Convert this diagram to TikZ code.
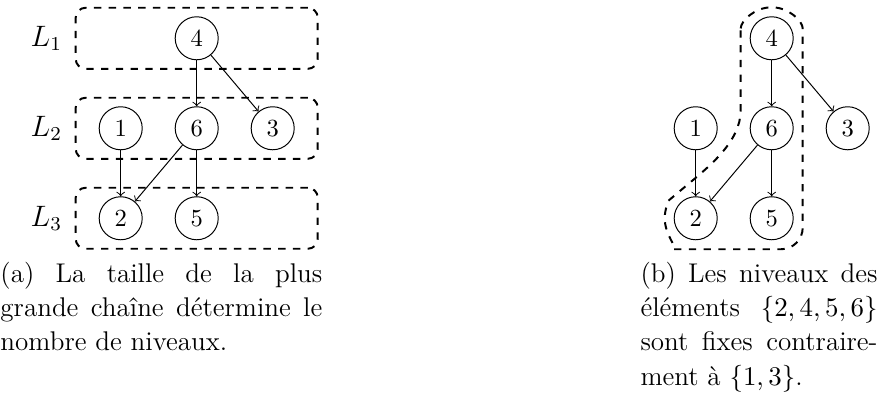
\documentclass[tikz,border=0pt]{standalone}
\usepackage{amsmath}
\usetikzlibrary{positioning, calc, arrows}

\begin{document}
\begin{tikzpicture}[node distance=1.286cm and 1.086cm, on grid, auto, >=to,
    elem/.style={draw, circle, minimum size=17.5pt, inner sep=0pt},
    levelbox/.style={draw, dashed, thick, rounded corners=4pt},
    legende/.style={anchor=north west, inner sep=0pt, align=justify,
      font=\fontsize{11}{13.85}\selectfont}]
  \useasboundingbox (0,0) rectangle (12.59,-5.63);

  % (a) elements ranges par niveau
  \node[elem] (a4) at (2.811,-0.547) {4};
  \node[elem, below=of a4] (a6) {6};
  \node[elem, left=of a6] (a1) {1};
  \node[elem, right=of a6] (a3) {3};
  \node[elem, below=of a1] (a2) {2};
  \node[elem, below=of a6] (a5) {5};
  %
  \node[levelbox, minimum width=3.458cm, minimum height=0.872cm] (l1) at (a4) {};
  \node[levelbox, minimum width=3.458cm, minimum height=0.872cm] (l2) at (a6) {};
  \node[levelbox, minimum width=3.458cm, minimum height=0.872cm] (l3) at (a5) {};
  \node[font=\large] (ll1) at ([xshift=-0.405cm]l1.west) {$L_1$};
  \node[font=\large] (ll2) at ([xshift=-0.405cm]l2.west) {$L_2$};
  \node[font=\large] (ll3) at ([xshift=-0.405cm]l3.west) {$L_3$};
  %
  \draw[->] (a4) -- (a6);
  \draw[->] (a4) -- (a3);
  \draw[->] (a1) -- (a2);
  \draw[->] (a6) -- (a2);
  \draw[->] (a6) -- (a5);

  % (b) elements fixes
  \node[elem] (b4) at (11.028,-0.547) {4};
  \node[elem, below=of b4] (b6) {6};
  \node[elem, left=of b6] (b1) {1};
  \node[elem, right=of b6] (b3) {3};
  \node[elem, below=of b1] (b2) {2};
  \node[elem, below=of b6] (b5) {5};
  %
  \draw[->] (b4) -- (b6);
  \draw[->] (b4) -- (b3);
  \draw[->] (b1) -- (b2);
  \draw[->] (b6) -- (b2);
  \draw[->] (b6) -- (b5);
  %
  \draw[levelbox] ([xshift=-0.443cm]b4.center)
    arc[start angle=180, end angle=0, radius=0.443cm]
    {[rounded corners=0.31cm] -- ([xshift=0.443cm, yshift=-0.443cm]b5.center)
    -- ([yshift=-0.443cm]b2.center)}
    arc[start angle=270, end angle=130, radius=0.443cm]
    .. controls +(40:0.6cm) and ([xshift=-0.443cm, yshift=-0.2cm]b6.center)
    .. ([xshift=-0.443cm, yshift=0.4cm]b6.center) -- cycle;

  % legendes
  \node[legende, text width=4.6cm] (capa) at (0,-3.745)
    {(a) La taille de la plus grande chaîne détermine le nombre de niveaux.};
  \node[legende, text width=3.387cm] (capb) at (9.146,-3.745)
    {(b) Les niveaux des éléments $\{2,4,5,6\}$ sont fixes contraire\-ment à $\{1,3\}$.};
\end{tikzpicture}
\end{document}
